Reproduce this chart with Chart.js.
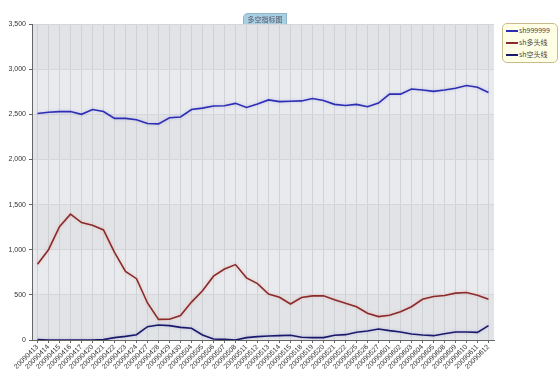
<!DOCTYPE html>
<html>
<head>
<meta charset="utf-8">
<script src="https://cdn.jsdelivr.net/npm/chart.js@4"></script>
<style>
  body { margin: 0; background: #fff; }
  #wrap { position: relative; width: 560px; height: 392px; }
  #title {
    position: absolute; left: 243px; top: 13px; width: 42px; height: 10px;
    background: #a9cfe2; border: 1px solid #8fb4c8; border-bottom: none;
    border-top-left-radius: 5px;
    font: 7px "Noto Sans CJK SC", sans-serif; color: #556; text-align: center; line-height: 10px;
  }
  #legend {
    position: absolute; left: 502px; top: 23px; width: 54px; height: 38px;
    background: #ffffe6; border: 1px solid #c9bb8e; border-radius: 5px;
    font: 7px "Noto Sans CJK SC", sans-serif; color: #444;
  }
  #legend div { height: 12px; line-height: 12px; padding-left: 3px; white-space: nowrap; }
  #legend span { display: inline-block; width: 12px; height: 2px; vertical-align: middle; margin-right: 1px; }
</style>
</head>
<body>
<div id="wrap">
  <canvas id="c" width="560" height="392"></canvas>
  <div id="title">多空指标图</div>
  <div id="legend"></div>
</div>
<script>
const dates = ['20090413','20090414','20090415','20090416','20090417','20090420','20090421','20090422','20090423','20090424',
  '20090427','20090428','20090429','20090430','20090504','20090505','20090506','20090507','20090508','20090511',
  '20090512','20090513','20090514','20090515','20090518','20090519','20090520','20090521','20090522','20090525',
  '20090526','20090527','20090601','20090602','20090603','20090604','20090605','20090608','20090609','20090610',
  '20090611','20090612'];

const sh999999 = [2508,2523,2530,2530,2500,2553,2530,2455,2455,2440,
  2398,2394,2462,2470,2553,2568,2591,2595,2621,2576,
  2614,2659,2640,2644,2648,2674,2652,2610,2598,2610,
  2583,2625,2723,2723,2780,2769,2754,2769,2788,2818,
  2799,2742];

const longLine = [839,1000,1255,1394,1300,1270,1219,971,759,679,
  410,228,230,270,420,545,707,786,835,688,
  624,508,474,399,470,489,489,447,406,368,
  297,259,274,312,368,451,481,492,519,526,
  496,451];

const shortLine = [5,0,0,0,0,0,4,26,40,59,
  148,166,159,140,130,55,11,7,0,26,
  37,44,48,52,30,26,26,52,59,85,
  100,122,104,89,67,55,48,70,89,89,
  85,159];

const yTicks = [0,500,1000,1500,2000,2500,3000,3500];

const series = [
  {name: 'sh999999', values: sh999999, color: 'rgb(46,46,180)', glow: 'rgba(120,120,230,0.4)'},
  {name: 'sh多头线', values: longLine, color: 'rgb(136,44,44)', glow: 'rgba(240,150,150,0.5)'},
  {name: 'sh空头线', values: shortLine, color: 'rgb(26,26,108)', glow: 'rgba(120,120,200,0.4)'}
];

// legend as html
const lg = document.getElementById('legend');
series.forEach(s => {
  const d = document.createElement('div');
  d.innerHTML = '<span style="background:' + s.color + '"></span>' + s.name;
  lg.appendChild(d);
});

// striped background of the plot area
const bands = {
  id: 'bands',
  beforeDraw(chart) {
    const {ctx, chartArea: a, scales: {y}} = chart;
    ctx.save();
    for (let i = 0; i < yTicks.length - 1; i++) {
      const top = y.getPixelForValue(yTicks[i + 1]);
      const bot = y.getPixelForValue(yTicks[i]);
      ctx.fillStyle = i % 2 ? '#e8eaed' : '#e2e3e6';
      ctx.fillRect(a.left, top, a.right - a.left, bot - top);
    }
    ctx.restore();
  }
};

const glow = {
  id: 'glow',
  beforeDatasetDraw(chart, args) {
    const ctx = chart.ctx;
    ctx.save();
    ctx.shadowColor = series[args.index].glow;
    ctx.shadowBlur = 3;
  },
  afterDatasetDraw(chart) {
    chart.ctx.restore();
  }
};

new Chart(document.getElementById('c'), {
  type: 'line',
  data: {
    labels: dates,
    datasets: series.map(s => ({
      label: s.name,
      data: s.values,
      borderColor: s.color,
      backgroundColor: s.color,
      borderWidth: 1.6,
      pointRadius: 0,
      tension: 0
    }))
  },
  options: {
    responsive: false,
    animation: false,
    layout: {padding: {top: 24, right: 66, left: 0, bottom: 0}},
    plugins: {legend: {display: false}, tooltip: {enabled: false}},
    scales: {
      x: {
        offset: true,
        grid: {color: 'rgba(205,207,211,0.9)', offset: false, drawTicks: true, tickLength: 3, tickColor: '#666'},
        border: {color: '#666'},
        ticks: {autoSkip: false, maxRotation: 45, minRotation: 45, padding: 0,
          font: {size: 7, family: 'Liberation Sans'}, color: '#333'},
        afterFit(s) { s.height = 52; }
      },
      y: {
        min: 0, max: 3500,
        ticks: {stepSize: 500, font: {size: 7, family: 'Liberation Sans'}, color: '#333', padding: 3},
        grid: {color: '#d4d6d9', tickLength: 3, tickColor: '#666'},
        border: {color: '#666'},
        afterFit(s) { s.width = 32; }
      }
    }
  },
  plugins: [bands, glow]
});
</script>
</body>
</html>
